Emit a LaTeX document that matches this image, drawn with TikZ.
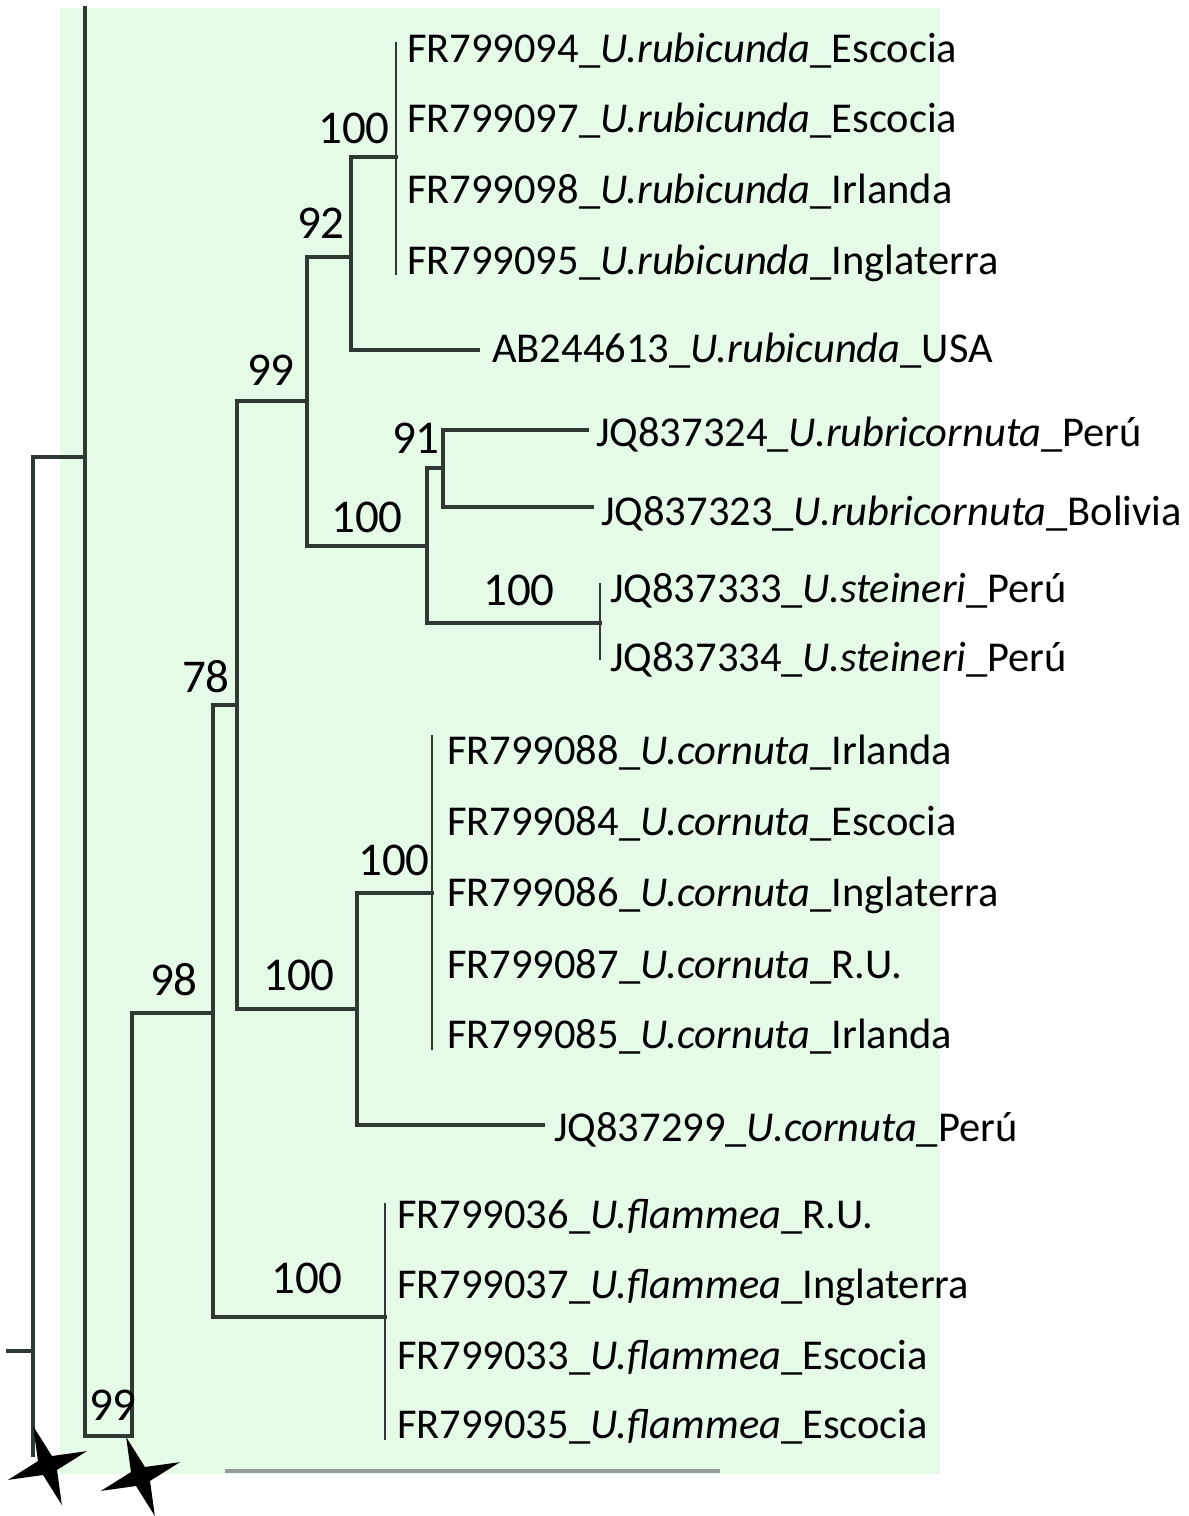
\documentclass[tikz,border=0pt]{standalone}
\usepackage{fontspec}
\setmainfont{Carlito}
\usetikzlibrary{shapes.geometric}
\definecolor{panel}{RGB}{230,250,232}
\definecolor{branch}{RGB}{48,56,50}
\definecolor{scalegray}{RGB}{150,156,152}
\begin{document}
\begin{tikzpicture}[x=1pt,y=-1pt,
  br/.style={draw=branch,line width=3.2pt,line cap=rect},
  tipbar/.style={draw=branch,line width=2.2pt},
  taxon/.style={anchor=base west,inner sep=0pt,font=\fontsize{42.5}{48}\selectfont},
  support/.style={anchor=base east,inner sep=0pt,font=\fontsize{47}{54}\selectfont},
  starmark/.style={star,star points=4,star point ratio=4,shape border rotate=20,
    fill=black,draw=none,minimum size=84pt,inner sep=0pt}]
\useasboundingbox (0,0) rectangle (1189,1516);
% panel behind the tree and the scale bar along its lower edge
\fill[panel] (60,8) rectangle (940,1474);
\draw[scalegray,line width=4pt] (225,1471) -- (720,1471);

% internal nodes (x of the vertical bar, y of the stem)
\coordinate (Rl) at (8,1351);
\coordinate (R) at (33,1351);
\coordinate (Rend) at (33,1455);
\coordinate (Atop) at (85,8);
\coordinate (A) at (85,457);
\coordinate (B) at (132,1436);
\coordinate (C) at (213,1013);
\coordinate (D) at (237,705);
\coordinate (E) at (307,401);
\coordinate (F) at (351,257);
\coordinate (G) at (396,157);
\coordinate (H) at (427,546);
\coordinate (I) at (443,468);
\coordinate (J) at (600,623);
\coordinate (K) at (357,1009);
\coordinate (L) at (432,893);
\coordinate (M) at (385,1317);
% terminal branch ends
\coordinate (tUSA) at (478,350);
\coordinate (t24) at (587,430);
\coordinate (t23) at (592,507);
\coordinate (t99) at (543,1125);

% branches
\draw[br] (Rl) -- (R);
\draw[br] (R |- A) -- (Rend);
\draw[br] (R |- A) -- (A);
\draw[br] (Atop) -- (A |- B) -- (B);
\draw[br] (B |- C) -- (B);
\draw[br] (B |- C) -- (C);
\draw[br] (C |- D) -- (C |- M);
\draw[br] (C |- D) -- (D);
\draw[br] (C |- M) -- (M);
\draw[br] (D |- E) -- (D |- K);
\draw[br] (D |- E) -- (E);
\draw[br] (D |- K) -- (K);
\draw[br] (E |- F) -- (E |- H);
\draw[br] (E |- F) -- (F);
\draw[br] (E |- H) -- (H);
\draw[br] (F |- G) -- (F |- tUSA);
\draw[br] (F |- G) -- (G);
\draw[br] (F |- tUSA) -- (tUSA);
\draw[br] (H |- I) -- (H |- J);
\draw[br] (H |- I) -- (I);
\draw[br] (H |- J) -- (J);
\draw[br] (I |- t24) -- (I |- t23);
\draw[br] (I |- t24) -- (t24);
\draw[br] (I |- t23) -- (t23);
\draw[br] (K |- L) -- (K |- t99);
\draw[br] (K |- L) -- (L);
\draw[br] (K |- t99) -- (t99);
% bars joining identical sequences
\draw[tipbar] (G |- 0,42) -- (G |- 0,275);
\draw[tipbar] (J |- 0,583) -- (J |- 0,660);
\draw[tipbar] (L |- 0,735) -- (L |- 0,1050);
\draw[tipbar] (M |- 0,1203) -- (M |- 0,1440);

% bootstrap support
\node[support] (sG) at (390,143) {100};
\node[support] (sF) at (345,238) {92};
\node[support] (sE) at (295,385) {99};
\node[support] (sI) at (440,453) {91};
\node[support] (sH) at (403,532) {100};
\node[support] (sJ) at (555,605) {100};
\node[support] (sD) at (230,692) {78};
\node[support] (sL) at (430,875) {100};
\node[support] (sK) at (335,990) {100};
\node[support] (sC) at (198,995) {98};
\node[support] (sM) at (343,1293) {100};
\node[support] (sB) at (137,1420) {99};

% taxa
\node[taxon] (l1) at (407,62) {FR799094\_\textit{U.rubicunda}\_Escocia};
\node[taxon] (l2) at (407,132) {FR799097\_\textit{U.rubicunda}\_Escocia};
\node[taxon] (l3) at (407,203) {FR799098\_\textit{U.rubicunda}\_Irlanda};
\node[taxon] (l4) at (407,274) {FR799095\_\textit{U.rubicunda}\_Inglaterra};
\node[taxon] (l5) at (492,362) {AB244613\_\textit{U.rubicunda}\_USA};
\node[taxon] (l6) at (596,446) {JQ837324\_\textit{U.rubricornuta}\_Perú};
\node[taxon] (l7) at (601,525) {JQ837323\_\textit{U.rubricornuta}\_Bolivia};
\node[taxon] (l8) at (610,602) {JQ837333\_\textit{U.steineri}\_Perú};
\node[taxon] (l9) at (610,671) {JQ837334\_\textit{U.steineri}\_Perú};
\node[taxon] (l10) at (447,764) {FR799088\_\textit{U.cornuta}\_Irlanda};
\node[taxon] (l11) at (447,835) {FR799084\_\textit{U.cornuta}\_Escocia};
\node[taxon] (l12) at (447,906) {FR799086\_\textit{U.cornuta}\_Inglaterra};
\node[taxon] (l13) at (447,978) {FR799087\_\textit{U.cornuta}\_R.U.};
\node[taxon] (l14) at (447,1048) {FR799085\_\textit{U.cornuta}\_Irlanda};
\node[taxon] (l15) at (554,1141) {JQ837299\_\textit{U.cornuta}\_Perú};
\node[taxon] (l16) at (397,1228) {FR799036\_\textit{U.flammea}\_R.U.};
\node[taxon] (l17) at (397,1298) {FR799037\_\textit{U.flammea}\_Inglaterra};
\node[taxon] (l18) at (397,1369) {FR799033\_\textit{U.flammea}\_Escocia};
\node[taxon] (l19) at (397,1438) {FR799035\_\textit{U.flammea}\_Escocia};

% star marks at the base of the tree
\node[starmark] (st1) at (47.5,1465.5) {};
\node[starmark] (st2) at (140.5,1476.5) {};
\end{tikzpicture}
\end{document}
